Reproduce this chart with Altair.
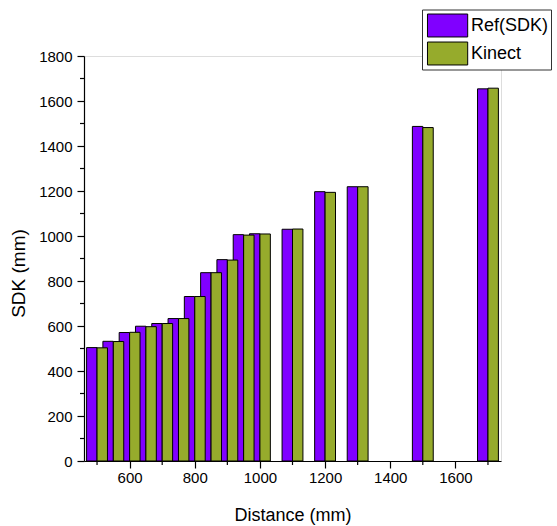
import altair as alt
import pandas as pd

# ---- data ----
distance = [500, 550, 600, 650, 700, 750, 800, 850, 900, 950, 1000, 1100, 1200, 1300, 1500, 1700]
ref_sdk = [504, 532, 571, 599, 611, 633, 731, 837, 895, 1006, 1010, 1030, 1197, 1219, 1487, 1654]
kinect = [503, 531, 572, 597, 611, 633, 731, 837, 893, 1004, 1009, 1031, 1194, 1219, 1482, 1657]
series_names = ["Ref(SDK)", "Kinect"]
series_colors = ["#8000ff", "#96ab2c"]

x_major = [600, 800, 1000, 1200, 1400, 1600]
x_minor = [500, 700, 900, 1100, 1300, 1500, 1700]
y_major = [0, 200, 400, 600, 800, 1000, 1200, 1400, 1600, 1800]
y_minor = [100, 300, 500, 700, 900, 1100, 1300, 1500, 1700]

BAR_W = 32  # bar width in data units
FONT = "Liberation Sans"

rows = []
for i, d in enumerate(distance):
    rows.append({"distance": d, "value": ref_sdk[i], "series": series_names[0], "x0": d - BAR_W, "x1": d})
for i, d in enumerate(distance):
    rows.append({"distance": d, "value": kinect[i], "series": series_names[1], "x0": d, "x1": d + BAR_W})
df = pd.DataFrame(rows)

xscale = alt.Scale(domain=[460, 1740], nice=False, zero=False)
yscale = alt.Scale(domain=[0, 1800], nice=False)

W, H = 417, 405

x_axis = alt.Axis(values=x_major, format="d", tickSize=7, tickWidth=1.2, tickColor="black",
                  domainColor="black", domainWidth=1.2, grid=False,
                  labelFont=FONT, labelFontSize=15, labelColor="black", labelPadding=2,
                  title="Distance (mm)", titleFont=FONT, titleFontSize=18,
                  titleFontWeight="normal", titleColor="black",
                  titleBaseline="alphabetic", titleY=59)
y_axis = alt.Axis(values=y_major, format="d", tickSize=7, tickWidth=1.2, tickColor="black",
                  domainColor="black", domainWidth=1.2, grid=False,
                  labelFont=FONT, labelFontSize=15, labelColor="black", labelPadding=5,
                  title="SDK (mm)", titleFont=FONT, titleFontSize=19,
                  titleFontWeight="normal", titleColor="black",
                  titleAngle=270, titleBaseline="middle", titleAlign="center",
                  titleX=-66, titleY=217)

bars = alt.Chart(df).mark_bar(stroke="black", strokeWidth=1, opacity=1).encode(
    x=alt.X("x0:Q", scale=xscale, axis=x_axis),
    x2="x1:Q",
    y=alt.Y("value:Q", scale=yscale, axis=y_axis),
    y2=alt.datum(0),
    color=alt.Color("series:N",
                    scale=alt.Scale(domain=series_names, range=series_colors),
                    legend=alt.Legend(orient="none", legendX=338, legendY=-46.5, title=None,
                                      symbolType="M-0.78,-0.85H2.2V0.85H-0.78Z", symbolSize=729,
                                      symbolStrokeColor="black", symbolStrokeWidth=1,
                                      symbolOpacity=1,
                                      labelFont=FONT, labelFontSize=18, labelColor="black",
                                      labelOffset=19, padding=2, rowPadding=0,
                                      strokeColor="#333333", fillColor="white")),
)

xminor_df = pd.DataFrame({"x0": x_minor})
yminor_df = pd.DataFrame({"value": y_minor})

xminor = alt.Chart(xminor_df).mark_rule(color="black", strokeWidth=1.2).encode(
    x=alt.X("x0:Q", scale=xscale),
    y=alt.value(H),
    y2=alt.value(H + 4),
)
yminor = alt.Chart(yminor_df).mark_rule(color="black", strokeWidth=1.2).encode(
    y=alt.Y("value:Q", scale=yscale),
    x=alt.value(0),
    x2=alt.value(-4),
)

chart = alt.layer(bars, xminor, yminor).properties(
    width=W, height=H,
    autosize=alt.AutoSizeParams(type="none"),
    padding={"left": 84, "top": 56, "right": 56, "bottom": 65},
).configure_view(strokeWidth=0).configure_axis(
    titleFontWeight="normal"
).configure(background="white")

chart.save("out.html", embed_options={"renderer": "svg", "actions": False})
